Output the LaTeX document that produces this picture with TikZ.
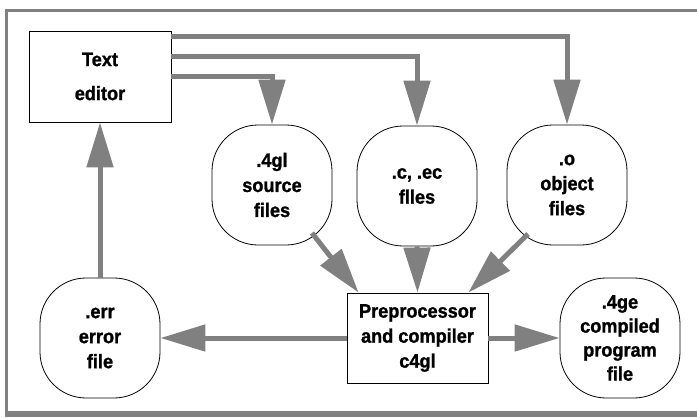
\documentclass[tikz,border=0pt]{standalone}
\usepackage{fontspec}
\setmainfont{Liberation Sans}[Ligatures=NoCommon,BoldFeatures={FakeBold=1.2,FakeStretch=0.93}]
\usepackage{tikz}
\usetikzlibrary{arrows.meta}

\definecolor{flowgray}{RGB}{128,128,128}

\begin{document}
\begin{tikzpicture}[x=1pt,y=-1pt,
    txt/.style={font=\bfseries\fontsize{19.5}{25}\selectfont,align=center},
    prog/.style={txt,draw,line width=.8pt,minimum width=142,minimum height=91},
    filebox/.style={txt,draw,line width=.8pt,minimum width=120,minimum height=120,rounded corners=46pt},
    flow/.style={draw=flowgray,line width=5pt,-{Triangle[length=45pt,width=26pt]}},
    frame/.style={draw=flowgray,line width=3pt}]
          \useasboundingbox (0,0) rectangle (697,418);
          %% frame
          \draw[frame] (697,10) -- (6,10) -- (6,412);
          \draw[frame,line width=6pt] (4.5,414) -- (697,414);
          %% programs
          \node[prog,font=\bfseries\fontsize{19.5}{34}\selectfont] (ed) at (100,76.5) {Text\\editor};
          \node[prog,minimum width=141,minimum height=90,inner sep=2pt] (pp) at (417.5,338) {Preprocessor\\and compiler\\c4gl};
          %% files
          \node[filebox] (src) at (272,185) {.4gl\\source\\files};
          \node[filebox] (cfile) at (417,186) {.c, .ec\\flles};
          \node[filebox] (obj) at (567,185) {.o\\object\\files};
          \node[filebox] (err) at (100,338) {.err\\error\\file};
          \node[filebox,font=\bfseries\fontsize{19.5}{24}\selectfont] (exe) at (620,338) {.4ge\\compiled\\program\\file};
          %% editor writes the sources
          \draw[flow] (ed.east) -| (src.north);
          \draw[flow] ([yshift=20]ed.east) -| (cfile.north);
          \draw[flow] ([yshift=40]ed.east) -| (obj.north);
          %% sources into the compiler
          \draw[flow] ([shift={(40,48)}]src.center) -- ([xshift=12]pp.north west);
          \draw[flow] (cfile.south) -- (pp.north);
          \draw[flow] ([shift={(-39,49)}]obj.center) -- ([xshift=-20]pp.north east);
          %% compiler output
          \draw[flow] (pp.west) -- (err.east);
          \draw[flow] (pp.east) -- (exe.west);
          \draw[flow] (err.north) -- (ed.south);
        \end{tikzpicture}
\end{document}
